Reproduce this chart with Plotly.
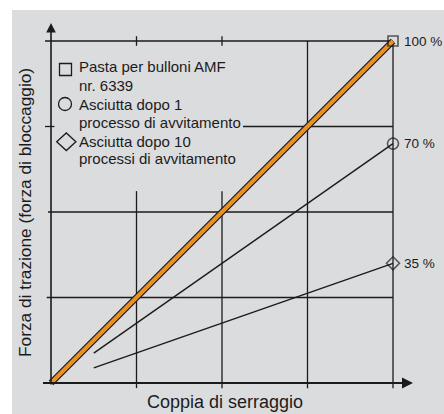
import plotly.graph_objects as go

# ---------------- data ----------------
coppia_pasta = [0, 4]          # coppia di serraggio (grid units)
forza_pasta = [0, 100]         # % forza di trazione
coppia_secco = [0.5, 4]
forza_secco_1 = [8.75, 70]
forza_secco_10 = [4.4, 35]
end_x = [4, 4, 4]
end_y = [100, 70, 35]
end_labels = ["100 %", "70 %", "35 %"]
end_symbols = ["square-open", "circle-open", "diamond-open"]
legend_lines = ["Pasta per bulloni AMF", "nr. 6339", "Asciutta dopo 1",
                "processo di avvitamento", "Asciutta dopo 10",
                "processi di avvitamento"]
x_title = "Coppia di serraggio"
y_title = "Forza di trazione (forza di bloccaggio)"

# ---------------- layout geometry ----------------
W, H = 444, 414
L, R, T, B = 30, 14, 14, 18
X0PX, Y0PX = 51, 383
SX, SY = 85.5, 3.42           # px per x unit, px per %
xr = [(L - X0PX) / SX, (W - R - X0PX) / SX]
yr = [(Y0PX - (H - B)) / SY, (Y0PX - T) / SY]


def xd(px):
    return (px - X0PX) / SX


def yd(py):
    return (Y0PX - py) / SY


def px_(px):
    return (px - L) / (W - L - R)


def py_(py):
    return ((H - B) - py) / (H - T - B)


BG = "#dbdcde"
INK = "#1b1b1b"
ORANGE = "#ef8f22"
FONT = "Liberation Sans, Arial, Helvetica, sans-serif"

fig = go.Figure()

# Orange line (with black outline)
fig.add_trace(go.Scatter(x=coppia_pasta, y=forza_pasta, mode="lines",
                         line=dict(color=INK, width=6.5), hoverinfo="skip"))
fig.add_trace(go.Scatter(x=coppia_pasta, y=forza_pasta, mode="lines",
                         line=dict(color=ORANGE, width=4), hoverinfo="skip"))
# Dry lines
fig.add_trace(go.Scatter(x=coppia_secco, y=forza_secco_1, mode="lines",
                         line=dict(color=INK, width=1.4)))
fig.add_trace(go.Scatter(x=coppia_secco, y=forza_secco_10, mode="lines",
                         line=dict(color=INK, width=1.4)))
# End markers
fig.add_trace(go.Scatter(x=end_x, y=end_y, mode="markers",
                         marker=dict(symbol=end_symbols, size=[10, 11, 10],
                                     color=INK,
                                     line=dict(color=INK, width=1.6)),
                         cliponaxis=False))

shapes = []
# white border strips (page background is gray)
shapes.append(dict(type="rect", xref="paper", yref="paper", layer="above",
                   x0=px_(-2), x1=px_(W + 2), y0=py_(10), y1=py_(-2),
                   fillcolor="white", line=dict(width=0)))
shapes.append(dict(type="rect", xref="paper", yref="paper", layer="above",
                   x0=px_(-2), x1=px_(12), y0=py_(H + 2), y1=py_(-2),
                   fillcolor="white", line=dict(width=0)))

gl = dict(color=INK, width=1.3)
# horizontal grid segments (y, x from, x to)
for yv, xa, xb in [(25, -0.05, 4), (50, -0.035, 4), (75, 2.245, 4),
                   (75, -0.07, 0.04), (100, -0.07, 4)]:
    shapes.append(dict(type="line", xref="x", yref="y", x0=xa, x1=xb,
                       y0=yv, y1=yv, line=gl, layer="below"))
# vertical grid segments (x, y from, y to)
for xv, ya, yb in [(1, -1.5, 56.1), (2, -1.5, 56.1), (3, -1.5, 100),
                   (4, -1.5, 100), (1, 98.6, 101.4), (2, 98.6, 101.4)]:
    shapes.append(dict(type="line", xref="x", yref="y", x0=xv, x1=xv,
                       y0=ya, y1=yb, line=gl, layer="below"))

# legend symbols
sym = dict(color=INK, width=1.3)
shapes.append(dict(type="rect", xref="x", yref="y", x0=xd(59.5), x1=xd(71.5),
                   y0=yd(75.5), y1=yd(63.5), line=sym))
shapes.append(dict(type="circle", xref="x", yref="y", x0=xd(58.5), x1=xd(71.5),
                   y0=yd(110.5), y1=yd(97.5), line=sym))
cx, cy = 66.3, 141.8
shapes.append(dict(type="path", xref="x", yref="y", line=sym,
                   path=(f"M {xd(cx-9.6)} {yd(cy)} L {xd(cx)} {yd(cy-8.8)} "
                         f"L {xd(cx+9.6)} {yd(cy)} L {xd(cx)} {yd(cy+8.8)} Z")))

annotations = []
# axes with arrows
annotations.append(dict(x=0, y=yd(23), ax=0, ay=yd(386), xref="x", yref="y",
                        axref="x", ayref="y", text="", showarrow=True,
                        arrowhead=2, arrowsize=1.2, arrowwidth=1.6,
                        arrowcolor=INK))
annotations.append(dict(x=xd(413), y=0, ax=xd(41.5), ay=0, xref="x", yref="y",
                        axref="x", ayref="y", text="", showarrow=True,
                        arrowhead=2, arrowsize=1.1, arrowwidth=2,
                        arrowcolor=INK))
# end labels
for xv, yv, lab in zip(end_x, end_y, end_labels):
    annotations.append(dict(x=xv, y=yv, xref="x", yref="y", text=lab,
                            showarrow=False, xanchor="left", yanchor="middle",
                            xshift=9, yshift=0,
                            font=dict(family=FONT, size=13.5, color=INK)))
# legend text
centers = [66, 85, 104, 122.5, 141, 158]
for txt, cyy in zip(legend_lines, centers):
    annotations.append(dict(x=xd(77), y=yd(cyy), xref="x", yref="y",
                            text=txt, showarrow=False, xanchor="left",
                            yanchor="middle",
                            font=dict(family=FONT, size=15, color=INK)))
# axis titles
annotations.append(dict(x=px_(225), y=py_(402), xref="paper", yref="paper",
                        text=x_title, showarrow=False, xanchor="center",
                        yanchor="middle",
                        font=dict(family=FONT, size=18, color=INK)))
annotations.append(dict(x=px_(25), y=py_(213), xref="paper", yref="paper",
                        text=y_title, showarrow=False, textangle=-90,
                        xanchor="center", yanchor="middle",
                        font=dict(family=FONT, size=17.3, color=INK)))

fig.update_layout(
    width=W, height=H,
    margin=dict(l=L, r=R, t=T, b=B),
    paper_bgcolor=BG,
    plot_bgcolor=BG,
    showlegend=False,
    shapes=shapes,
    annotations=annotations,
    xaxis=dict(range=xr, visible=False, fixedrange=True),
    yaxis=dict(range=yr, visible=False, fixedrange=True),
)

fig.write_html("out.html",
               config={"displayModeBar": False},
               post_script="document.body.style.margin='0px';"
                           "document.body.style.overflow='hidden';")
